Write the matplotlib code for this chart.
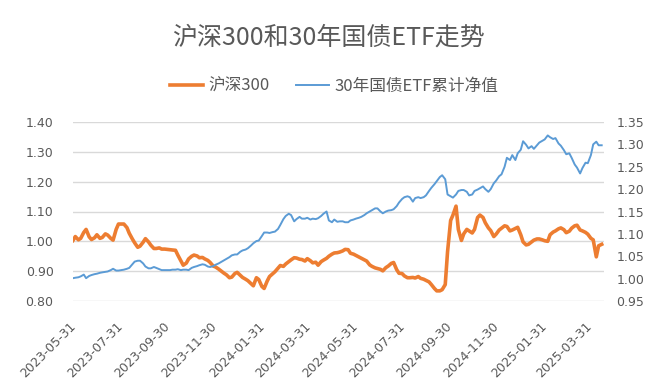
import matplotlib
matplotlib.use("Agg")
import numpy as np
import pandas as pd
import matplotlib.pyplot as plt
import matplotlib.dates as mdates

plt.rcParams['font.family'] = ['Noto Sans CJK SC', 'DejaVu Sans']

tue_dates = pd.date_range('2023-05-30', periods=99, freq='7D')
fri_dates = pd.date_range('2023-06-02', periods=98, freq='7D')

hs300_tue = [1.003, 1.005, 1.030, 1.015, 1.012, 1.010, 1.025, 1.010, 1.040, 1.058,
             1.046, 1.008, 0.980, 0.997, 0.998, 0.976, 0.978, 0.974, 0.972, 0.970,
             0.935, 0.927, 0.950, 0.951, 0.946, 0.936, 0.917, 0.907, 0.893, 0.878,
             0.892, 0.886, 0.873, 0.858, 0.878, 0.849, 0.867, 0.891, 0.910, 0.916,
             0.932, 0.945, 0.940, 0.934, 0.935, 0.930, 0.932, 0.943, 0.957, 0.962,
             0.968, 0.972, 0.957, 0.948, 0.938, 0.921, 0.911, 0.906, 0.912, 0.926,
             0.905, 0.892, 0.878, 0.879, 0.882, 0.873, 0.864, 0.842, 0.834, 0.855,
             1.070, 1.118, 1.003, 1.040, 1.028, 1.080, 1.080, 1.045, 1.016, 1.038,
             1.052, 1.035, 1.043, 1.022, 0.988, 0.998, 1.008, 1.005, 1.000, 1.031,
             1.042, 1.039, 1.034, 1.052, 1.038, 1.030, 1.010, 0.948, 0.990]
hs300_fri = [1.016, 1.010, 1.040, 1.006, 1.022, 1.013, 1.021, 1.004, 1.058, 1.058,
             1.027, 0.995, 0.984, 1.009, 0.987, 0.976, 0.974, 0.973, 0.971, 0.954,
             0.920, 0.941, 0.954, 0.945, 0.941, 0.929, 0.914, 0.901, 0.888, 0.880,
             0.896, 0.879, 0.868, 0.851, 0.872, 0.842, 0.882, 0.898, 0.919, 0.924,
             0.938, 0.944, 0.939, 0.942, 0.928, 0.920, 0.937, 0.950, 0.961, 0.964,
             0.973, 0.960, 0.953, 0.944, 0.934, 0.916, 0.909, 0.901, 0.917, 0.929,
             0.893, 0.884, 0.878, 0.877, 0.876, 0.869, 0.855, 0.834, 0.838, 0.965,
             1.088, 1.040, 1.025, 1.035, 1.040, 1.088, 1.062, 1.036, 1.024, 1.044,
             1.050, 1.038, 1.047, 0.998, 0.990, 1.004, 1.008, 1.002, 1.022, 1.035,
             1.045, 1.029, 1.044, 1.054, 1.035, 1.024, 1.005, 0.985]

etf_tue = [1.001, 1.003, 1.009, 1.006, 1.010, 1.013, 1.015, 1.019, 1.018, 1.019,
           1.022, 1.032, 1.040, 1.034, 1.023, 1.026, 1.021, 1.019, 1.019, 1.020,
           1.019, 1.020, 1.024, 1.028, 1.032, 1.027, 1.028, 1.034, 1.041, 1.048,
           1.054, 1.060, 1.065, 1.074, 1.084, 1.095, 1.103, 1.104, 1.111, 1.133,
           1.145, 1.128, 1.138, 1.134, 1.132, 1.133, 1.140, 1.150, 1.126, 1.127,
           1.128, 1.126, 1.132, 1.136, 1.142, 1.150, 1.157, 1.150, 1.150, 1.153,
           1.162, 1.178, 1.184, 1.172, 1.182, 1.182, 1.196, 1.211, 1.227, 1.222,
           1.184, 1.188, 1.198, 1.194, 1.188, 1.199, 1.206, 1.194, 1.213, 1.229,
           1.250, 1.265, 1.265, 1.288, 1.299, 1.296, 1.298, 1.308, 1.320, 1.312,
           1.302, 1.287, 1.280, 1.255, 1.235, 1.259, 1.276, 1.306, 1.298]
etf_fri = [1.002, 1.005, 1.001, 1.008, 1.011, 1.014, 1.016, 1.022, 1.018, 1.020,
           1.024, 1.038, 1.040, 1.027, 1.023, 1.024, 1.019, 1.019, 1.020, 1.021,
           1.020, 1.019, 1.026, 1.030, 1.031, 1.026, 1.031, 1.037, 1.044, 1.052,
           1.054, 1.063, 1.068, 1.079, 1.085, 1.103, 1.102, 1.105, 1.120, 1.140,
           1.142, 1.133, 1.134, 1.136, 1.134, 1.135, 1.145, 1.130, 1.132, 1.128,
           1.126, 1.130, 1.134, 1.138, 1.146, 1.153, 1.157, 1.146, 1.152, 1.155,
           1.170, 1.182, 1.182, 1.180, 1.180, 1.186, 1.203, 1.218, 1.231, 1.188,
           1.181, 1.196, 1.198, 1.186, 1.196, 1.202, 1.200, 1.200, 1.219, 1.233,
           1.270, 1.276, 1.280, 1.307, 1.291, 1.290, 1.304, 1.311, 1.316, 1.314,
           1.297, 1.278, 1.270, 1.248, 1.247, 1.258, 1.300, 1.298]

tick_dates = ['2023-05-31', '2023-07-31', '2023-09-30', '2023-11-30',
              '2024-01-31', '2024-03-31', '2024-05-31', '2024-07-31',
              '2024-09-30', '2024-11-30', '2025-01-31', '2025-03-31']
left_ticks = [0.80, 0.90, 1.00, 1.10, 1.20, 1.30, 1.40]
right_ticks = [0.95, 1.00, 1.05, 1.10, 1.15, 1.20, 1.25, 1.30, 1.35]

hs300 = pd.concat([pd.Series(hs300_tue, index=tue_dates),
                   pd.Series(hs300_fri, index=fri_dates)]).sort_index()
etf_nav = pd.concat([pd.Series(etf_tue, index=tue_dates),
                     pd.Series(etf_fri, index=fri_dates)]).sort_index()

orange = '#ED7D31'
blue = '#5B9BD5'
txt = '#595959'

fig = plt.figure(figsize=(6.6, 3.91), dpi=100)
ax = fig.add_axes([73 / 660, 1 - 301 / 391, 531 / 660, 179 / 391])
ax2 = ax.twinx()

l1, = ax.plot(hs300.index, hs300.values, color=orange, lw=2.6, label='沪深300')
l2, = ax2.plot(etf_nav.index, etf_nav.values, color=blue, lw=1.4, label='30年国债ETF累计净值')

ax.set_ylim(0.80, 1.40)
ax.set_yticks(left_ticks)
ax.set_yticklabels([f'{v:.2f}' for v in left_ticks])
ax2.set_ylim(0.95, 1.35)
ax2.set_yticks(right_ticks)
ax2.set_yticklabels([f'{v:.2f}' for v in right_ticks])

ax.set_xlim(pd.Timestamp('2023-05-30'), pd.Timestamp('2025-04-18'))
ax.set_xticks(pd.to_datetime(tick_dates))
ax.xaxis.set_major_formatter(mdates.DateFormatter('%Y-%m-%d'))

ax.grid(axis='y', color='#D9D9D9', lw=1)
ax.set_axisbelow(True)
for a in (ax, ax2):
    for s in a.spines.values():
        s.set_visible(False)

ax.tick_params(axis='y', length=0, pad=14, labelsize=9, labelcolor=txt)
ax2.tick_params(axis='y', length=0, pad=9, labelsize=9, labelcolor=txt)
ax.tick_params(axis='x', length=0, pad=17, labelsize=9, labelcolor=txt)
for lbl in ax.get_xticklabels():
    lbl.set_rotation(45)
    lbl.set_ha('right')
    lbl.set_va('center')
    lbl.set_rotation_mode('anchor')
for lbl in ax.get_xticklabels() + ax.get_yticklabels() + ax2.get_yticklabels():
    lbl.set_family('DejaVu Sans')

fig.text(328 / 660, 1 - 38 / 391, '沪深300和30年国债ETF走势', ha='center', va='center',
         fontsize=18, color=txt)
fig.legend([l1, l2], [l1.get_label(), l2.get_label()], loc='center',
           bbox_to_anchor=(334 / 660, 1 - 86 / 391), ncol=2, frameon=False,
           fontsize=12, labelcolor=txt, handlelength=2.0, handletextpad=0.3,
           columnspacing=1.6)

fig.savefig('out.png', dpi=100)
